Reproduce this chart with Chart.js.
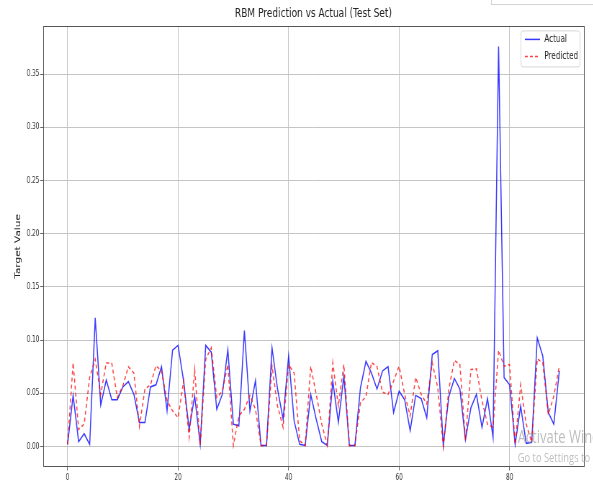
<!DOCTYPE html>
<html><head><meta charset="utf-8">
<script src="https://cdn.jsdelivr.net/npm/chart.js@4.4.0/dist/chart.umd.min.js"></script>
<style>
html,body{margin:0;padding:0;background:#fff;overflow:hidden;width:593px;height:486px;}
#wrap{position:absolute;left:0;top:0;width:824px;height:486px;transform:scaleX(0.72);transform-origin:0 0;}
#c{display:block;}
.wm{position:absolute;font-family:"Open Sans","Noto Sans",sans-serif;color:rgba(150,150,150,0.62);white-space:nowrap;}
#tr{position:absolute;left:491px;top:-12px;width:120px;height:15px;border:1px solid #d4d4d4;background:#fff;}
</style></head>
<body>
<div id="wrap">
<canvas id="c" width="824" height="486"></canvas>
<div class="wm" style="left:719px;top:427px;font-size:18px;line-height:18px;">Activate Windows</div>
<div class="wm" style="left:719px;top:451px;font-size:13px;line-height:13px;">Go to Settings to activate Windows.</div>
</div>
<div id="tr"></div>
<script>
const chartTitle = 'RBM Prediction vs Actual (Test Set)';
const yAxisLabel = 'Target Value';
const seriesNames = ['Actual', 'Predicted'];
const xTicks = [0, 20, 40, 60, 80];
const yTicks = [0, 0.05, 0.10, 0.15, 0.20, 0.25, 0.30, 0.35];

const actual = [
  0.002, 0.048, 0.0045, 0.012, 0.002, 0.121, 0.039, 0.0625, 0.044, 0.044,
  0.056, 0.061, 0.049, 0.0226, 0.0226, 0.056, 0.058, 0.075, 0.0335, 0.0905,
  0.095, 0.0615, 0.016, 0.0475, 0.002, 0.095, 0.0886, 0.035, 0.049, 0.091,
  0.021, 0.0195, 0.109, 0.0335, 0.062, 0.001, 0.001, 0.0927, 0.054, 0.0257,
  0.085, 0.024, 0.002, 0.001, 0.049, 0.0257, 0.0045, 0.001, 0.0615, 0.0226,
  0.066, 0.001, 0.001, 0.055, 0.080, 0.069, 0.054, 0.071, 0.075, 0.032,
  0.052, 0.044, 0.0148, 0.048, 0.045, 0.027, 0.0864, 0.090, 0.001, 0.047,
  0.064, 0.054, 0.0064, 0.0366, 0.049, 0.018, 0.045, 0.0086, 0.376, 0.0647,
  0.058, 0.002, 0.038, 0.003, 0.004, 0.102, 0.085, 0.032, 0.021, 0.071
];
const predicted = [
  0.002, 0.0787, 0.016, 0.021, 0.065, 0.082, 0.049, 0.0787, 0.078, 0.046,
  0.057, 0.075, 0.069, 0.019, 0.054, 0.058, 0.076, 0.071, 0.043, 0.0335,
  0.027, 0.0615, 0.0086, 0.0724, 0.001, 0.082, 0.0927, 0.046, 0.052, 0.077,
  0.001, 0.0288, 0.035, 0.048, 0.035, 0.001, 0.001, 0.0755, 0.038, 0.018,
  0.077, 0.069, 0.0054, 0.001, 0.0755, 0.049, 0.021, 0.001, 0.0787, 0.038,
  0.077, 0.001, 0.001, 0.041, 0.047, 0.079, 0.075, 0.051, 0.049, 0.0615,
  0.0755, 0.049, 0.0288, 0.065, 0.049, 0.040, 0.0787, 0.055, 0.000, 0.054,
  0.081, 0.077, 0.006, 0.0724, 0.073, 0.043, 0.021, 0.018, 0.0905, 0.0755,
  0.077, 0.002, 0.058, 0.021, 0.004, 0.0824, 0.0787, 0.030, 0.0475, 0.0755
];

Chart.defaults.font.family = '"DejaVu Sans", sans-serif';

const toPoints = arr => arr.map((v, i) => ({x: i, y: v}));

const framePlugin = {
  id: 'frame',
  afterDatasetsDraw(chart) {
    const {ctx, chartArea: a} = chart;
    ctx.save();
    ctx.strokeStyle = '#555';
    ctx.lineWidth = 1;
    ctx.strokeRect(Math.round(a.left) + 0.5, Math.round(a.top) + 0.5,
                   Math.round(a.right - a.left), Math.round(a.bottom - a.top));
    ctx.restore();
  }
};

const legendPlugin = {
  id: 'boxLegend',
  afterDraw(chart) {
    const {ctx, chartArea: a} = chart;
    const w = 82, h = 36;
    const x0 = a.right - 6 - w, y0 = a.top + 4;
    ctx.save();
    ctx.fillStyle = 'rgba(255,255,255,0.85)';
    ctx.strokeStyle = '#d6d6d6';
    ctx.lineWidth = 1;
    ctx.beginPath();
    ctx.roundRect(x0 + 0.5, y0 + 0.5, w, h, 3);
    ctx.fill();
    ctx.stroke();
    chart.data.datasets.forEach((ds, i) => {
      const y = y0 + 9 + i * 17;
      ctx.strokeStyle = ds.borderColor;
      ctx.lineWidth = ds.borderWidth;
      ctx.setLineDash(ds.borderDash || []);
      ctx.beginPath();
      ctx.moveTo(x0 + 6, y);
      ctx.lineTo(x0 + 27, y);
      ctx.stroke();
      ctx.setLineDash([]);
      ctx.fillStyle = '#222';
      ctx.font = '10px "DejaVu Sans"';
      ctx.textBaseline = 'middle';
      ctx.textAlign = 'left';
      ctx.fillText(ds.label, x0 + 33, y);
    });
    ctx.restore();
  }
};

new Chart(document.getElementById('c'), {
  type: 'line',
  data: {
    datasets: [
      {
        label: seriesNames[0],
        data: toPoints(actual),
        borderColor: 'rgba(0,0,255,0.78)',
        borderWidth: 1.5,
        pointRadius: 0,
        tension: 0,
        fill: false,
        order: 1
      },
      {
        label: seriesNames[1],
        data: toPoints(predicted),
        borderColor: 'rgba(255,0,0,0.75)',
        borderWidth: 1.5,
        borderDash: [4, 3],
        pointRadius: 0,
        tension: 0,
        fill: false,
        order: 0
      }
    ]
  },
  options: {
    responsive: false,
    maintainAspectRatio: false,
    animation: false,
    devicePixelRatio: 1,
    layout: {padding: {left: 0, right: 13, top: 0, bottom: 0}},
    plugins: {
      legend: {display: false},
      tooltip: {enabled: false},
      title: {
        display: true,
        fullSize: false,
        text: chartTitle,
        color: '#222',
        font: {size: 12.5, weight: 'normal'},
        padding: {top: 6, bottom: 5.4}
      }
    },
    scales: {
      x: {
        type: 'linear',
        min: -4.45,
        max: 93.45,
        afterBuildTicks: s => { s.ticks = xTicks.map(v => ({value: v})); },
        afterFit: s => { s.height = 19.5; },
        ticks: {
          color: '#333',
          font: {size: 8},
          padding: 3,
          maxRotation: 0,
          callback: v => String(v)
        },
        grid: {color: '#c4c4c4', lineWidth: 1, drawTicks: true, tickLength: 4, tickColor: '#666'},
        border: {display: false}
      },
      y: {
        type: 'linear',
        min: -0.0188,
        max: 0.3948,
        afterBuildTicks: s => { s.ticks = yTicks.map(v => ({value: v})); },
        afterFit: s => { s.width = 59.7; },
        ticks: {
          color: '#333',
          font: {size: 8},
          padding: 1,
          callback: v => Number(v).toFixed(2)
        },
        grid: {color: '#c4c4c4', lineWidth: 1, drawTicks: true, tickLength: 4, tickColor: '#666'},
        border: {display: false},
        title: {
          display: true,
          text: yAxisLabel,
          color: '#222',
          font: {size: 10.5},
          padding: {top: 19, bottom: 0}
        }
      }
    }
  },
  plugins: [framePlugin, legendPlugin]
});
</script>
</body></html>
